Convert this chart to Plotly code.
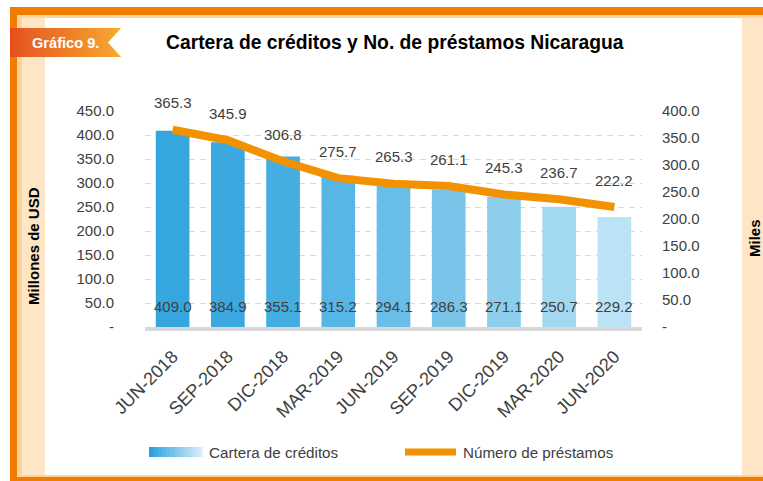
import plotly.graph_objects as go

# ---------------- data ----------------
categories = ["JUN-2018", "SEP-2018", "DIC-2018", "MAR-2019", "JUN-2019",
              "SEP-2019", "DIC-2019", "MAR-2020", "JUN-2020"]
cartera = [409.0, 384.9, 355.1, 315.2, 294.1, 286.3, 271.1, 250.7, 229.2]
prestamos = [365.3, 345.9, 306.8, 275.7, 265.3, 261.1, 245.3, 236.7, 222.2]

left_tickvals = [0, 50, 100, 150, 200, 250, 300, 350, 400, 450]
left_ticktext = ["-", "50.0", "100.0", "150.0", "200.0", "250.0", "300.0", "350.0", "400.0", "450.0"]
right_tickvals = [0, 50, 100, 150, 200, 250, 300, 350, 400]
right_ticktext = ["-", "50.0", "100.0", "150.0", "200.0", "250.0", "300.0", "350.0", "400.0"]

title_text = "Cartera de créditos y No. de préstamos Nicaragua"
badge_text = "Gráfico 9."
left_title = "Millones de USD"
right_title = "Miles"
legend_bar = "Cartera de créditos"
legend_line = "Número de préstamos"

# ---------------- styles ----------------
W, H = 763, 481
# plot area in page pixels: x 145..642, y 111..327
ML, MT = 145, 111
PW, PH = 642 - 145, 327 - 111
MR, MB = W - ML - PW, H - MT - PH

FONT = "Liberation Sans, Arial, sans-serif"
TXT = "#404040"
ORANGE = "#F39200"

bar_colors = ["#36A7DE", "#3BA9DF", "#45AEE1", "#56B6E5", "#68BEE8",
              "#79C5EA", "#8DCEED", "#A3D8F1", "#BCE2F5"]


def px(x):
    return (x - ML) / PW


def py(y):
    return (MT + PH - y) / PH


def lerp(c1, c2, t):
    return "rgb(%d,%d,%d)" % tuple(round(a + (b - a) * t) for a, b in zip(c1, c2))


fig = go.Figure()

fig.add_trace(go.Bar(
    x=categories, y=cartera, marker=dict(color=bar_colors, line=dict(width=0)),
    width=0.61, showlegend=False, hoverinfo="skip"))

fig.add_trace(go.Scatter(
    x=categories, y=prestamos, yaxis="y2", mode="lines",
    line=dict(color=ORANGE, width=8), showlegend=False, hoverinfo="skip"))

shapes = []


def rect(x0, y0, x1, y1, color, layer="below"):
    shapes.append(dict(type="rect", xref="paper", yref="paper",
                       x0=px(x0), x1=px(x1), y0=py(y1), y1=py(y0),
                       fillcolor=color, line=dict(width=0), layer=layer))


# frame
rect(10, 7, 780, 500, "#F07D00")
rect(17, 15, 780, 477, "#FAD39E")
rect(22, 18, 780, 475, "#FDE5C5")
rect(45, 18, 742, 475, "#FFFFFF")

# badge ribbon with gradient
c_left, c_right = (230, 78, 28), (246, 170, 50)
n = 55
x_start, x_end = 10, 121
for i in range(n):
    x0 = x_start + (x_end - x_start) * i / n
    x1 = x_start + (x_end - x_start) * (i + 1) / n + 0.6
    rect(x0, 28, x1, 57, lerp(c_left, c_right, i / (n - 1)))
shapes.append(dict(type="path", xref="paper", yref="paper",
                   path="M %f %f L %f %f L %f %f Z" % (px(108), py(42.5), px(122), py(27), px(122), py(58)),
                   fillcolor="#FFFFFF", line=dict(width=0), layer="below"))

# legend swatches
lc1, lc2 = (40, 158, 219), (216, 237, 249)
m = 26
for i in range(m):
    x0 = 149 + (202 - 149) * i / m
    x1 = 149 + (202 - 149) * (i + 1) / m + 0.5
    rect(x0, 447, x1, 457, lerp(lc1, lc2, i / (m - 1)), layer="above")
shapes.append(dict(type="line", xref="paper", yref="paper",
                   x0=px(405), x1=px(456), y0=py(452), y1=py(452),
                   line=dict(color=ORANGE, width=7), layer="above"))

annotations = []
# data labels for line
for c, v in zip(categories, prestamos):
    annotations.append(dict(x=c, y=v, xref="x", yref="y2", text=f"{v:.1f}",
                            showarrow=False, yshift=27,
                            font=dict(family=FONT, size=15, color=TXT)))
# data labels for bars
for c, v in zip(categories, cartera):
    annotations.append(dict(x=c, y=0, xref="x", yref="y", text=f"{v:.1f}",
                            showarrow=False, yshift=21,
                            font=dict(family=FONT, size=15, color=TXT)))


def label(x, y, text, size, color, bold=False, anchor="center", angle=0):
    annotations.append(dict(x=px(x), y=py(y), xref="paper", yref="paper",
                            text=f"<b>{text}</b>" if bold else text,
                            showarrow=False, xanchor=anchor, yanchor="middle",
                            textangle=angle,
                            font=dict(family=FONT, size=size, color=color)))


label(65, 43, badge_text, 14.6, "#FFFFFF", bold=True)
label(395, 42, title_text, 19.3, "#000000", bold=True)
label(33, 246, left_title, 15, "#000000", bold=True, angle=-90)
label(754, 238, right_title, 15, "#000000", bold=True, angle=-90)
label(207, 452, legend_bar, 15.2, TXT, anchor="left")
label(461, 452, legend_line, 15.2, TXT, anchor="left")

fig.update_layout(
    width=W, height=H,
    margin=dict(l=ML, r=MR, t=MT, b=MB, pad=0),
    paper_bgcolor="#FFFFFF", plot_bgcolor="rgba(0,0,0,0)",
    bargap=0.39, showlegend=False, hovermode=False,
    shapes=shapes, annotations=annotations,
    xaxis=dict(type="category", range=[-0.5, 8.5], tickangle=-45,
               tickfont=dict(family=FONT, size=18, color=TXT),
               showline=True, linecolor="#D9D9D9", linewidth=4,
               showgrid=False, ticks="", ticklabelstandoff=8),
    yaxis=dict(range=[0, 450], tickvals=left_tickvals, ticktext=left_ticktext,
               tickfont=dict(family=FONT, size=15, color=TXT),
               showgrid=True, gridcolor="#D9D9D9", griddash="6px,5px", gridwidth=1,
               zeroline=False, showline=False, ticks="", ticklabelstandoff=30),
    yaxis2=dict(range=[0, 400], tickvals=right_tickvals, ticktext=right_ticktext,
                overlaying="y", side="right",
                tickfont=dict(family=FONT, size=15, color=TXT),
                showgrid=False, zeroline=False, showline=False, ticks="",
                ticklabelstandoff=19),
)

fig.write_html(
    "out.html",
    config={"displayModeBar": False},
    post_script="document.body.style.margin='0';document.body.style.overflow='hidden';",
)
